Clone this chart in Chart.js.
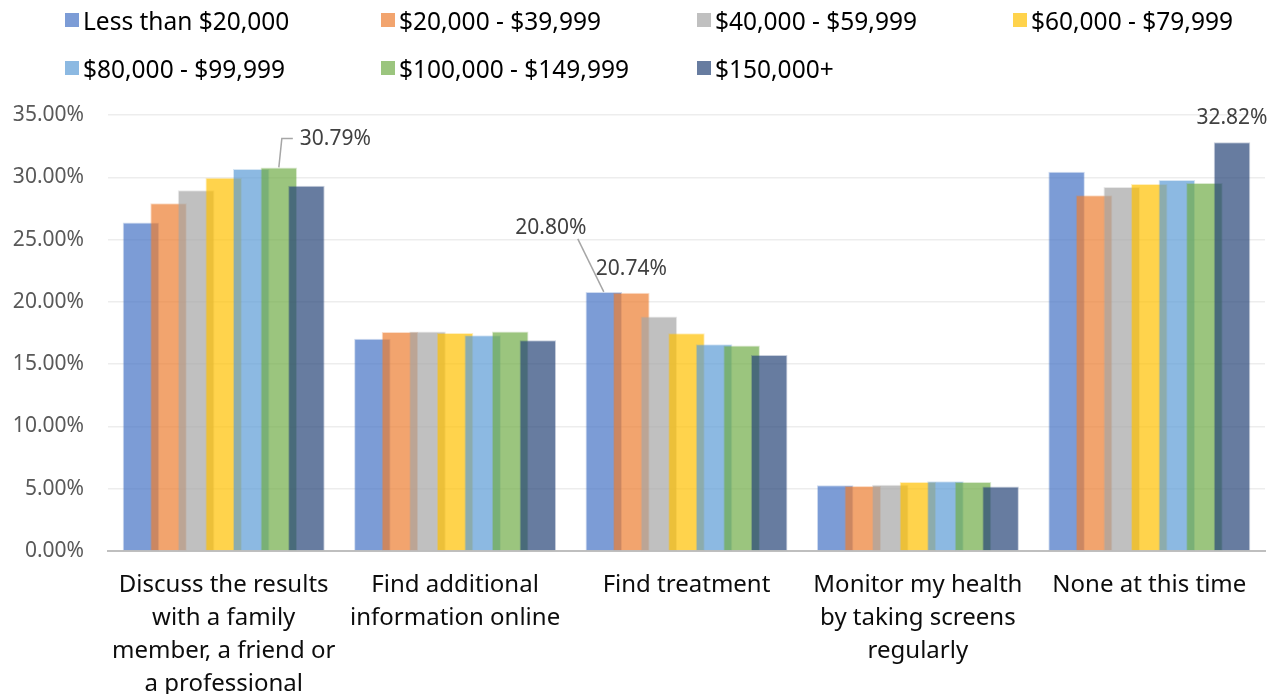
<!DOCTYPE html>
<html>
<head>
<meta charset="utf-8">
<script src="https://cdn.jsdelivr.net/npm/chart.js@4.4.1/dist/chart.umd.min.js"></script>
<style>
  html, body { margin: 0; padding: 0; background: #fff; }
  #wrap { position: relative; width: 1276px; height: 694px; overflow: hidden; }
  #legend {
    position: absolute; left: 65px; top: 3px;
    display: grid; grid-template-columns: repeat(4, 316px); row-gap: 14px;
    font-family: "Noto Sans", sans-serif; font-size: 24.5px; color: #000;
  }
  .item { display: flex; align-items: center; height: 34px; white-space: nowrap; }
  .swatch { width: 14px; height: 14px; margin-right: 4px; }
</style>
</head>
<body>
<div id="wrap">
  <canvas id="incomeChart" width="1276" height="694"></canvas>
  <div id="legend"></div>
</div>
<script>
const categories = [
  ["Discuss the results", "with a family", "member, a friend or", "a professional"],
  ["Find additional", "information online"],
  ["Find treatment"],
  ["Monitor my health", "by taking screens", "regularly"],
  ["None at this time"]
];
const seriesNames = [
  "Less than $20,000", "$20,000 - $39,999", "$40,000 - $59,999", "$60,000 - $79,999",
  "$80,000 - $99,999", "$100,000 - $149,999", "$150,000+"
];
const seriesColors = ["#4472C4", "#ED7D31", "#A5A5A5", "#FFC000", "#5B9BD5", "#70AD47", "#264478"];

// percent of respondents, one array per income band
const under20k   = [26.38, 17.03, 20.80, 5.27, 30.45];
const from20k    = [27.91, 17.59, 20.74, 5.21, 28.55];
const from40k    = [28.95, 17.62, 18.83, 5.32, 29.22];
const from60k    = [29.97, 17.51, 17.48, 5.53, 29.46];
const from80k    = [30.67, 17.32, 16.60, 5.59, 29.78];
const from100k   = [30.79, 17.62, 16.49, 5.53, 29.54];
const over150k   = [29.33, 16.92, 15.74, 5.18, 32.82];
const seriesValues = [under20k, from20k, from40k, from60k, from80k, from100k, over150k];

const yTicks = [0, 5, 10, 15, 20, 25, 30, 35];

function alpha(hex, a) {
  const n = parseInt(hex.slice(1), 16);
  return `rgba(${n >> 16}, ${(n >> 8) & 255}, ${n & 255}, ${a})`;
}

// legend grid above the plot
const legendEl = document.getElementById('legend');
seriesNames.forEach((name, i) => {
  const item = document.createElement('div');
  item.className = 'item';
  item.innerHTML = `<span class="swatch" style="background:${alpha(seriesColors[i], 0.7)}"></span>${name}`;
  legendEl.appendChild(item);
});

// value labels: [series, category, placement]
const callouts = [
  { s: 5, c: 0, place: 'rightLeader' },
  { s: 0, c: 2, place: 'leftLeader' },
  { s: 1, c: 2, place: 'above' },
  { s: 6, c: 4, place: 'above' }
];

const calloutPlugin = {
  id: 'callouts',
  // draw datasets in index order so later bands overlap earlier ones
  beforeDatasetsDraw(chart) {
    chart.data.datasets.forEach((ds, i) => chart.getDatasetMeta(i).controller.draw());
    return false;
  },
  afterDraw(chart) {
    const ctx = chart.ctx;
    ctx.save();
    ctx.font = '21px "Noto Sans", sans-serif';
    ctx.fillStyle = '#404040';
    ctx.strokeStyle = '#A6A6A6';
    ctx.lineWidth = 1.5;
    ctx.textBaseline = 'middle';
    callouts.forEach(co => {
      const bar = chart.getDatasetMeta(co.s).data[co.c];
      const text = seriesValues[co.s][co.c].toFixed(2) + '%';
      const x = bar.x, y = bar.y;
      if (co.place === 'rightLeader') {
        ctx.beginPath();
        ctx.moveTo(x, y);
        ctx.lineTo(x + 3, y - 29);
        ctx.lineTo(x + 14, y - 29);
        ctx.stroke();
        ctx.textAlign = 'left';
        ctx.fillText(text, x + 21, y - 28);
      } else if (co.place === 'leftLeader') {
        ctx.beginPath();
        ctx.moveTo(x, y);
        ctx.lineTo(x - 26, y - 53);
        ctx.stroke();
        ctx.textAlign = 'center';
        ctx.fillText(text, x - 53, y - 64);
      } else {
        ctx.textAlign = 'center';
        ctx.fillText(text, x, y - 24);
      }
    });
    ctx.restore();
  }
};

const ctx = document.getElementById('incomeChart').getContext('2d');
const incomeChart = new Chart(ctx, {
  type: 'bar',
  data: {
    labels: categories,
    datasets: seriesNames.map((name, i) => ({
      label: name,
      data: seriesValues[i],
      backgroundColor: alpha(seriesColors[i], 0.7),
      borderColor: alpha(seriesColors[i], 0.25),
      borderWidth: 1,
      categoryPercentage: 0.834,
      barPercentage: 1.325
    }))
  },
  options: {
    responsive: false,
    animation: false,
    layout: { padding: { top: 115, right: 11, left: 0, bottom: 0 } },
    plugins: {
      legend: { display: false },
      tooltip: { enabled: false }
    },
    scales: {
      x: {
        grid: { display: false, drawTicks: false },
        border: { color: '#BFBFBF', width: 2 },
        ticks: {
          color: '#0D0D0D',
          font: { family: '"Noto Sans", sans-serif', size: 24, lineHeight: '33px' },
          padding: 18,
          maxRotation: 0,
          autoSkip: false
        },
        afterFit(scale) { scale.height = 143; }
      },
      y: {
        min: 0,
        max: 35,
        afterBuildTicks(scale) { scale.ticks = yTicks.map(v => ({ value: v })); },
        grid: { color: '#EDEDED', lineWidth: 1.5, drawTicks: false },
        border: { display: false },
        ticks: {
          color: '#595959',
          font: { family: '"Noto Sans", sans-serif', size: 21 },
          padding: 24,
          callback: v => v.toFixed(2) + '%'
        },
        afterFit(scale) { scale.width = 108; }
      }
    }
  },
  plugins: [calloutPlugin]
});
</script>
</body>
</html>
